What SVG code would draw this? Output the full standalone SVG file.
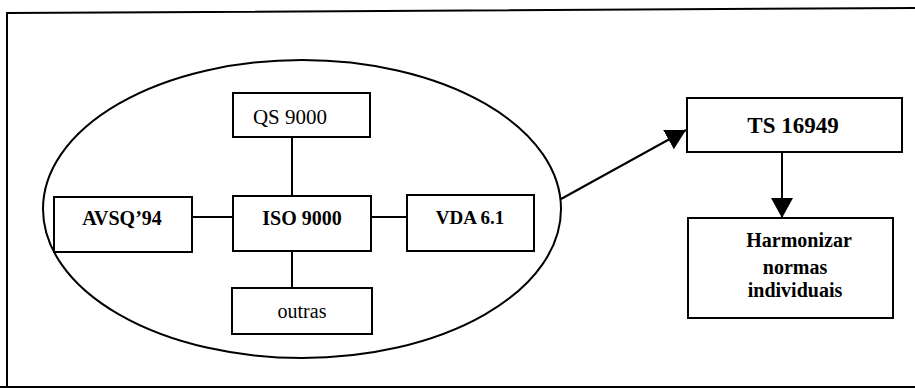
<svg xmlns="http://www.w3.org/2000/svg" width="915" height="388" viewBox="0 0 915 388">
<style>
.box{fill:#fff;stroke:#000;stroke-width:2}
.ln{stroke:#000;stroke-width:2;fill:none}
text{font-family:'Liberation Serif','DejaVu Serif',serif;fill:#000;text-anchor:middle}
.b{font-weight:bold}
</style>
<defs>
<marker id="ah2" viewBox="0 0 20 22" refX="20" refY="11" markerWidth="20" markerHeight="22" markerUnits="userSpaceOnUse" orient="auto">
<path d="M0,0 L20,11 L0,22 Z" fill="#000"/>
</marker>
</defs>
<rect width="915" height="388" fill="#fff"/>
<g id="frame">
<path d="M7,388 L7,13 L915,8" class="ln" stroke-width="3"/>
<path d="M0,387 L915,387" class="ln" stroke-width="2"/>
</g>
<g id="ellipse">
<ellipse cx="302" cy="209" rx="259" ry="149" class="ln"/>
</g>
<g id="connectors">
<line x1="292" y1="137" x2="292" y2="196" class="ln"/>
<line x1="292" y1="251" x2="292" y2="288" class="ln"/>
<line x1="192" y1="217" x2="233" y2="217" class="ln"/>
<line x1="371" y1="217" x2="407" y2="217" class="ln"/>
<line x1="561" y1="199" x2="686" y2="130" class="ln" stroke-width="3" marker-end="url(#ah2)"/>
<line x1="782" y1="152" x2="782" y2="218" class="ln" stroke-width="3" marker-end="url(#ah2)"/>
</g>
<g id="qs9000">
<rect x="233" y="93" width="137" height="44" class="box"/>
<text x="290" y="124" font-family="Liberation Serif, serif" font-size="21">QS 9000</text>
</g>
<g id="iso9000">
<rect x="233" y="196" width="138" height="55" class="box"/>
<text x="302" y="225" class="b" font-family="Liberation Serif, serif" font-size="20">ISO 9000</text>
</g>
<g id="avsq94">
<rect x="54" y="197" width="138" height="55" class="box"/>
<text x="122" y="225" class="b" font-family="Liberation Serif, serif" font-size="20">AVSQ’94</text>
</g>
<g id="vda61">
<rect x="407" y="195" width="127" height="56" class="box"/>
<text x="470" y="224" class="b" font-family="Liberation Serif, serif" font-size="19">VDA 6.1</text>
</g>
<g id="outras">
<rect x="232" y="288" width="140" height="46" class="box"/>
<text x="302" y="318" font-family="Liberation Serif, serif" font-size="20">outras</text>
</g>
<g id="ts16949">
<rect x="687" y="98" width="215" height="54" class="box" stroke-width="2.5"/>
<text x="793" y="133" class="b" font-family="Liberation Serif, serif" font-size="23">TS 16949</text>
</g>
<g id="harmonizar">
<rect x="688" y="218" width="205" height="100" class="box" stroke-width="2.5"/>
<text x="799" y="247" class="b" font-family="Liberation Serif, serif" font-size="20">Harmonizar</text>
<text x="795" y="274" class="b" font-family="Liberation Serif, serif" font-size="20">normas</text>
<text x="795" y="297" class="b" font-family="Liberation Serif, serif" font-size="20">individuais</text>
</g>
</svg>
